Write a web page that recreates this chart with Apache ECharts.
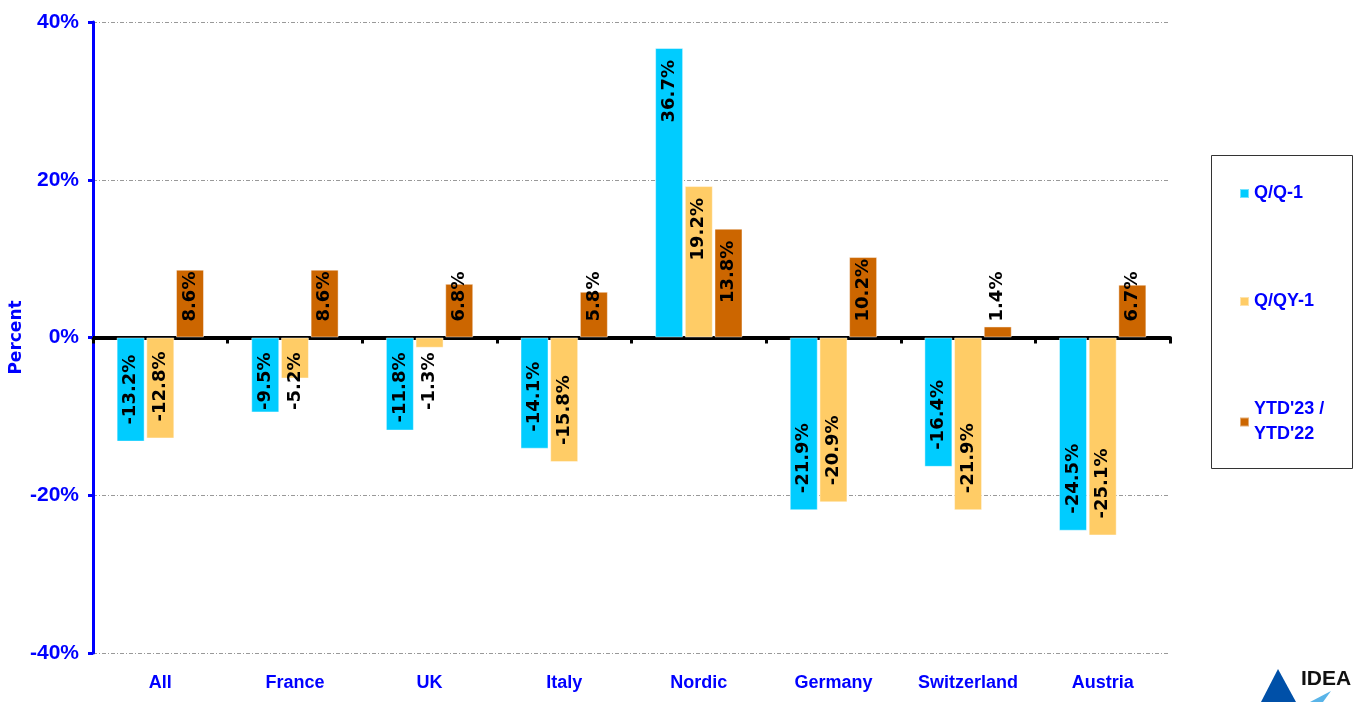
<!DOCTYPE html>
<html>
<head>
<meta charset="utf-8">
<script src="https://cdn.jsdelivr.net/npm/echarts@6/dist/echarts.min.js"></script>
<style>
  html, body { margin: 0; padding: 0; background: #fff; }
  #chart { width: 1359px; height: 702px; }
</style>
</head>
<body>
<div id="chart"></div>
<script>
const categories = ['All', 'France', 'UK', 'Italy', 'Nordic', 'Germany', 'Switzerland', 'Austria']
const seriesNames = ['Q/Q-1', 'Q/QY-1', "YTD'23 /\nYTD'22"]
const qq1 = [-13.2, -9.5, -11.8, -14.1, 36.7, -21.9, -16.4, -24.5]
const qqy1 = [-12.8, -5.2, -1.3, -15.8, 19.2, -20.9, -21.9, -25.1]
const ytd = [8.6, 8.6, 6.8, 5.8, 13.8, 10.2, 1.4, 6.7]
const yTicks = [-40, -20, 0, 20, 40]

const colors = ['#00CCFF', '#FFCC66', '#CC6600']
const narrow = '"Liberation Sans Narrow", "Arial Narrow", "Liberation Sans", Arial, sans-serif'
const wide = '"DejaVu Sans", "Liberation Sans", sans-serif'
const blue = '#0000FF'

// label sits at the bar end when the bar is long enough, otherwise next to the axis
function withLabels(values) {
  return values.map(v => {
    const long = Math.abs(v) >= 12
    let label
    if (v >= 0) {
      label = long
        ? { position: 'insideTop', distance: 12, align: 'right' }
        : { position: 'insideBottom', distance: 16, align: 'left' }
    } else {
      label = long
        ? { position: 'insideBottom', distance: 17, align: 'left' }
        : { position: 'insideTop', distance: 15, align: 'right' }
    }
    return { value: v, label: label }
  })
}

const myChart = echarts.init(document.getElementById('chart'))

const option = {
  animation: false,
  color: colors,
  grid: { left: 93, right: 189, top: 22, bottom: 49, outerBoundsMode: 'none', containLabel: false },
  legend: {
    orient: 'vertical',
    left: 1234,
    top: 176,
    itemWidth: 9,
    itemHeight: 9,
    itemGap: 83,
    icon: 'rect',
    data: seriesNames,
    textStyle: { color: blue, fontFamily: narrow, fontWeight: 'bold', fontSize: 18, lineHeight: 25 }
  },
  xAxis: [
    {
      type: 'category',
      data: categories,
      axisLine: { onZero: true, lineStyle: { color: '#000', width: 4 } },
      axisTick: { show: true, length: 6, lineStyle: { color: '#000', width: 3 } },
      axisLabel: { show: false },
      splitLine: { show: false }
    },
    {
      type: 'category',
      data: categories,
      position: 'bottom',
      axisLine: { show: false, onZero: false },
      axisTick: { show: false },
      axisLabel: { interval: 0, color: blue, fontFamily: narrow, fontWeight: 'bold', fontSize: 18, margin: 21 }
    }
  ],
  yAxis: {
    type: 'value',
    min: yTicks[0],
    max: yTicks[yTicks.length - 1],
    interval: 20,
    name: 'Percent',
    nameLocation: 'middle',
    nameGap: 68,
    nameMoveOverlap: false,
    nameTextStyle: { color: blue, fontFamily: wide, fontWeight: 'bold', fontSize: 17 },
    axisLine: { show: true, lineStyle: { color: blue, width: 3 } },
    axisTick: { show: true, length: 5, lineStyle: { color: blue, width: 3 } },
    axisLabel: {
      color: blue, fontFamily: narrow, fontWeight: 'bold', fontSize: 21, margin: 14,
      formatter: v => v + '%'
    },
    splitLine: {
      show: true,
      lineStyle: { color: '#999', width: 1, type: [4, 2, 1, 2] }
    }
  },
  series: [qq1, qqy1, ytd].map((vals, i) => ({
    name: seriesNames[i],
    type: 'bar',
    xAxisIndex: 0,
    barWidth: 28,
    barGap: '6%',
    data: withLabels(vals),
    itemStyle: { borderColor: 'rgba(255,255,255,0.45)', borderWidth: 1 },
    label: {
      show: true,
      rotate: 90,
      verticalAlign: 'middle',
      color: '#000',
      fontFamily: wide,
      fontWeight: 'bold',
      fontSize: 18,
      formatter: p => p.value.toFixed(1) + '%'
    }
  })),
  graphic: [
    {
      type: 'rect',
      shape: { x: 1211.5, y: 155.5, width: 141, height: 313 },
      style: { fill: 'none', stroke: '#333', lineWidth: 1 },
      silent: true
    },
    {
      type: 'polygon',
      shape: { points: [[1278, 669], [1261, 702], [1296, 702]] },
      style: { fill: '#0050A8' },
      silent: true
    },
    {
      type: 'polygon',
      shape: { points: [[1331, 691], [1323, 702], [1310, 702]] },
      style: { fill: '#59B4E8' },
      silent: true
    },
    {
      type: 'text',
      left: 1301,
      top: 669,
      style: { text: 'IDEA', fill: '#111', font: 'bold 21px "Liberation Sans", Arial, sans-serif' },
      silent: true
    }
  ]
}

myChart.setOption(option)
</script>
</body>
</html>
